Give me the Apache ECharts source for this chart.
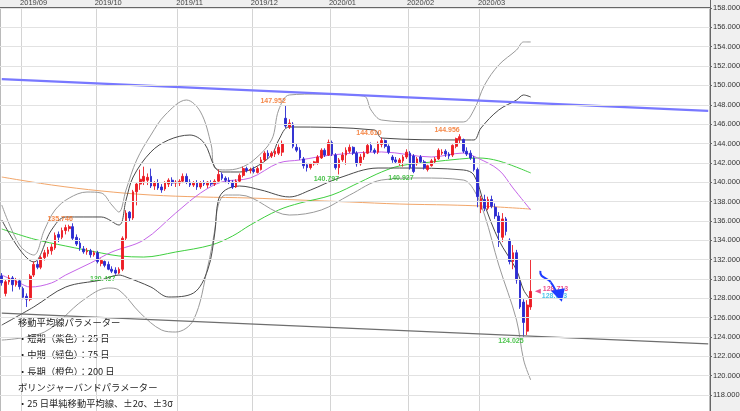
<!DOCTYPE html>
<html><head><meta charset="utf-8">
<script src="https://cdn.jsdelivr.net/npm/echarts@6/dist/echarts.min.js"></script>
<style>html,body{margin:0;padding:0;background:#f0f0f0;overflow:hidden}#c{width:740px;height:411px}</style>
</head><body><div id="c"></div>
<script>
// ---- categories (trading days) ----
const dates = [
'2019/08/23','2019/08/26','2019/08/27','2019/08/28','2019/08/29','2019/08/30',
'2019/09/02','2019/09/03','2019/09/04','2019/09/05','2019/09/06','2019/09/09','2019/09/10','2019/09/11','2019/09/12','2019/09/13','2019/09/16','2019/09/17','2019/09/18','2019/09/19','2019/09/20','2019/09/23','2019/09/24','2019/09/25','2019/09/26','2019/09/27','2019/09/30',
'2019/10/01','2019/10/02','2019/10/03','2019/10/04','2019/10/07','2019/10/08','2019/10/09','2019/10/10','2019/10/11','2019/10/14','2019/10/15','2019/10/16','2019/10/17','2019/10/18','2019/10/21','2019/10/22','2019/10/23','2019/10/24','2019/10/25','2019/10/28','2019/10/29','2019/10/30','2019/10/31',
'2019/11/01','2019/11/04','2019/11/05','2019/11/06','2019/11/07','2019/11/08','2019/11/11','2019/11/12','2019/11/13','2019/11/14','2019/11/15','2019/11/18','2019/11/19','2019/11/20','2019/11/21','2019/11/22','2019/11/25','2019/11/26','2019/11/27','2019/11/28','2019/11/29',
'2019/12/02','2019/12/03','2019/12/04','2019/12/05','2019/12/06','2019/12/09','2019/12/10','2019/12/11','2019/12/12','2019/12/13','2019/12/16','2019/12/17','2019/12/18','2019/12/19','2019/12/20','2019/12/23','2019/12/24','2019/12/25','2019/12/26','2019/12/27','2019/12/30','2019/12/31',
'2020/01/02','2020/01/03','2020/01/06','2020/01/07','2020/01/08','2020/01/09','2020/01/10','2020/01/13','2020/01/14','2020/01/15','2020/01/16','2020/01/17','2020/01/20','2020/01/21','2020/01/22','2020/01/23','2020/01/24','2020/01/27','2020/01/28','2020/01/29','2020/01/30','2020/01/31',
'2020/02/03','2020/02/04','2020/02/05','2020/02/06','2020/02/07','2020/02/10','2020/02/11','2020/02/12','2020/02/13','2020/02/14','2020/02/17','2020/02/18','2020/02/19','2020/02/20','2020/02/21','2020/02/24','2020/02/25','2020/02/26','2020/02/27','2020/02/28',
'2020/03/02','2020/03/03','2020/03/04','2020/03/05','2020/03/06','2020/03/09','2020/03/10','2020/03/11','2020/03/12','2020/03/13','2020/03/16','2020/03/17','2020/03/18','2020/03/19','2020/03/20'
];
const futureSlots = 50;
const monthStarts = [6,27,50,71,93,115,135];
const monthLabels = ['2019/09','2019/10','2019/11','2019/12','2020/01','2020/02','2020/03'];

// ---- OHLC ----
const open = [
130.3,128.5,129.7,130.1,129.4,129.8,
129.0,128.2,127.9,130.4,131.5,131.2,132.2,132.6,132.9,133.2,134.6,134.3,135.0,135.2,135.4,134.3,133.7,133.1,132.8,132.9,132.5,
132.7,131.6,131.8,131.5,131.0,130.9,130.6,131.0,134.2,136.9,136.3,139.0,139.8,140.1,140.2,140.6,139.6,139.9,139.5,139.3,139.8,140.2,139.9,
139.9,140.1,140.6,140.0,139.7,139.9,139.5,139.9,139.7,139.9,139.8,140.1,140.8,140.4,140.2,140.0,139.5,140.1,140.7,141.4,141.2,
141.3,141.0,141.3,142.3,143.0,142.7,142.9,143.0,143.1,146.6,145.7,146.0,143.6,143.3,142.4,141.8,141.5,141.9,142.0,142.5,143.3,142.8,
144.1,142.8,141.5,142.3,142.8,143.2,143.6,143.0,141.9,142.6,143.0,143.8,143.3,143.1,143.9,144.3,143.7,142.6,142.3,142.0,142.2,142.6,
143.0,142.7,141.9,142.6,142.1,141.3,141.7,142.1,142.4,143.0,143.2,142.9,142.8,143.7,144.4,144.4,143.2,143.0,142.5,141.3,
137.2,138.2,137.3,138.2,137.4,136.5,134.3,136.2,134.0,131.8,132.7,129.7,127.6,124.6,127.1
];
const high = [
130.6,129.9,130.4,130.3,130.1,130.0,
129.2,128.5,130.5,131.8,131.9,132.4,133.0,133.3,133.6,134.8,134.9,135.3,135.6,135.6,135.746,134.6,134.2,133.4,133.2,133.1,132.9,
132.9,132.1,131.9,131.8,131.3,131.2,131.2,134.4,137.1,137.0,139.2,140.0,141.3,141.6,140.9,141.4,140.1,140.3,139.8,140.1,140.4,140.5,140.2,
140.3,140.9,140.9,140.3,140.1,140.2,140.1,140.2,140.1,140.2,140.3,141.3,141.0,140.6,140.5,140.2,140.3,140.9,141.6,141.6,141.5,
141.6,141.6,142.6,143.2,143.3,143.2,143.4,143.9,144.3,147.952,146.5,146.2,144.0,143.6,142.6,142.0,142.0,142.2,142.8,143.5,143.5,144.4,
144.3,143.0,142.5,143.1,143.6,143.9,143.7,143.2,142.9,143.2,144.0,144.1,143.5,144.2,144.61,144.4,143.9,142.8,142.6,142.5,142.8,143.4,
143.2,142.9,142.6,142.8,142.3,141.8,142.4,142.6,143.5,143.4,143.4,143.1,143.9,144.6,144.956,144.5,143.6,143.3,142.7,141.5,
138.6,138.7,138.5,138.6,137.8,136.9,136.8,136.4,134.2,133.5,133.0,130.0,127.9,127.8,132.0
];
const low = [
129.3,128.2,129.4,128.7,129.2,128.9,
127.9,127.1,127.7,130.2,131.0,131.0,131.9,132.3,132.5,133.0,133.8,134.1,134.6,134.9,134.0,133.4,132.9,132.6,132.5,132.2,132.3,
131.6,131.3,131.2,130.9,130.6,130.437,130.5,130.8,134.0,135.9,136.1,137.6,139.2,139.7,139.7,139.4,139.2,139.2,138.9,139.1,139.5,139.6,139.5,
139.6,139.9,139.8,139.5,139.5,139.2,139.3,139.6,139.4,139.6,139.6,140.0,140.2,139.9,139.8,139.3,139.4,140.0,140.5,141.0,140.9,
140.9,140.9,141.2,142.1,142.4,142.5,142.6,142.8,142.7,145.6,145.5,143.5,143.1,142.3,141.4,141.1,141.3,141.7,141.8,142.4,142.6,142.7,
142.7,141.3,140.797,142.1,141.8,143.0,142.8,141.6,141.7,142.3,142.9,143.1,142.9,142.9,143.6,143.5,142.9,142.0,141.9,141.7,141.6,142.4,
141.3,140.927,141.7,142.0,141.3,141.1,141.6,141.9,142.3,142.8,142.6,142.4,142.6,143.5,144.0,143.0,142.7,142.3,141.1,137.4,
136.8,137.0,137.1,137.3,136.2,133.3,133.8,134.5,131.5,131.0,129.5,126.9,124.025,124.2,126.8
];
const close = [
129.6,129.7,130.1,129.4,129.8,129.2,
128.1,127.9,130.3,131.5,131.2,132.2,132.7,133.0,133.3,134.5,134.3,135.0,135.3,135.4,134.2,133.6,133.2,132.8,132.9,132.5,132.7,
131.8,131.9,131.4,131.0,130.8,130.6,131.0,134.2,136.8,136.3,139.0,139.8,140.3,140.6,140.5,139.6,139.9,139.4,139.2,139.9,140.2,139.9,140.0,
140.1,140.6,140.0,139.7,139.9,139.5,139.9,139.8,140.0,139.8,140.1,140.8,140.4,140.2,140.0,139.5,140.1,140.7,141.4,141.2,141.3,
141.1,141.4,142.3,143.0,142.7,143.0,143.2,143.6,144.0,145.8,146.1,143.7,143.3,142.5,141.7,141.5,141.9,142.1,142.6,143.3,142.8,144.1,
142.9,141.5,142.3,142.8,143.3,143.6,143.0,141.9,142.6,143.0,143.8,143.3,143.1,144.0,144.3,143.7,143.1,142.3,142.1,142.3,142.6,143.1,
141.5,141.1,142.4,142.1,141.5,141.7,142.2,142.4,143.3,143.1,142.9,142.7,143.8,144.5,144.7,143.2,142.9,142.5,141.3,138.5,
138.3,137.3,138.2,137.5,136.5,134.8,136.2,134.9,131.8,132.7,129.9,127.1,125.5,127.3,128.713
];

// ---- indicator lines as [day index, value] ----
const ma25 = [[0,130.40],[5,129.58],[8,129.16],[14,129.58],[18,130.40],[25,131.64],[31,132.78],[40,134.02],[49,136.81],[56,138.88],[62,140.02],[70,140.43],[78,141.98],[84,142.29],[93,142.81],[107,143.12],[121,142.60],[130,143.01],[134,142.50],[140,141.26],[144,139.40],[149,137.12]];
const ma75 = [[0,135.16],[9,134.12],[18,133.40],[28,132.68],[33,132.37],[40,132.26],[49,132.78],[59,133.50],[65,134.43],[70,135.57],[78,137.12],[84,137.84],[93,138.67],[101,140.02],[107,141.05],[112,141.67],[121,142.08],[129,142.39],[134,142.50],[140,142.19],[149,140.95]];
const ma200 = [[0,140.53],[14,139.71],[28,139.09],[42,138.67],[56,138.47],[70,138.36],[84,138.15],[98,137.95],[112,137.74],[126,137.64],[135,137.53],[149,137.22]];
const bbUp3 = [[0,137.64],[5,133.50],[9,132.47],[12,135.05],[15,137.12],[19,138.36],[24,138.98],[28,138.88],[31,137.64],[33,136.91],[35,139.19],[38,142.29],[42,144.87],[46,146.94],[52,148.49],[56,147.25],[59,143.84],[60,141.46],[63,141.26],[67,141.46],[71,142.29],[76,144.36],[78,147.46],[81,149.01],[90,149.11],[102,148.90],[104,147.46],[107,146.42],[118,146.22],[130,146.22],[133,147.46],[136,150.04],[140,152.11],[145,153.66],[147,154.49],[149,154.49]];
const bbUp2 = [[0,136.09],[9,131.75],[14,135.05],[18,136.40],[28,136.40],[33,135.57],[35,138.15],[37,140.53],[42,143.12],[47,144.36],[53,144.87],[57,144.05],[60,141.57],[62,141.05],[67,141.05],[71,141.46],[76,142.81],[78,144.36],[81,145.70],[105,145.39],[107,144.56],[130,144.36],[133,144.36],[135,145.60],[140,147.46],[145,148.49],[147,149.01],[149,148.80]];
const bbLo2 = [[0,125.23],[9,127.10],[18,129.16],[28,129.89],[33,130.40],[35,130.20],[42,129.16],[47,128.13],[54,128.54],[58,130.92],[60,134.74],[61,138.15],[63,139.19],[67,139.60],[73,139.19],[81,138.47],[87,139.19],[95,140.43],[106,141.46],[112,141.46],[130,141.26],[133,140.74],[136,137.64],[140,134.02],[145,130.92],[147,128.85],[149,127.82]];
const bbLo3 = [[0,123.68],[12,124.51],[23,127.82],[30,129.06],[33,128.85],[39,126.47],[45,124.72],[49,124.51],[54,125.75],[58,131.23],[60,135.05],[61,137.64],[63,138.67],[67,138.67],[81,136.60],[90,137.12],[98,138.67],[107,140.22],[118,140.43],[130,140.22],[133,139.19],[136,136.60],[140,131.43],[145,125.75],[147,121.62],[149,119.55]];

// ---- trend lines (end points) ----
const upperTrend = [[0,150.65],[199,147.36]];
const lowerTrend = [[0,126.47],[199,123.28]];

// ---- annotations ----
const highMarks = [[20,135.746],[80,147.952],[107,144.610],[129,144.956]];
const lowMarks = [[32,130.437],[95,140.797],[116,140.927],[147,124.025]];
const lastPrice = [[151,128.713]];
const askLabel = '128.693';

const notes = [
 '移動平均線パラメーター',
 '・短期（紫色）：25 日',
 '・中期（緑色）：75 日',
 '・長期（橙色）：200 日',
 'ボリンジャーバンドパラメーター',
 '・25 日単純移動平均線、±2σ、±3σ'
];

const cats = dates.concat(Array.from({length: futureSlots}, (_, i) => 'F' + i));
const candles = dates.map((d, i) => [open[i], close[i], low[i], high[i]]);
const NUM = 'Liberation Sans';

function lineSeries(data, color, width) {
  return {type:'line', data, xAxisIndex:0, yAxisIndex:0, symbol:'none', smooth:0.35,
    lineStyle:{color, width}, silent:true, z:3};
}

const chart = echarts.init(document.getElementById('c'));
chart.setOption({
  animation:false,
  backgroundColor:'#f0f0f0',
  grid:[
    {left:0, right:30, top:-11.35, bottom:-3.35, show:true, backgroundColor:'#ffffff', borderColor:'#777', borderWidth:1,
     containLabel:false, outerBoundsMode:'none'},
    {left:0, right:30, top:0, height:7, show:false, containLabel:false, outerBoundsMode:'none'}
  ],
  xAxis:[
    {type:'category', gridIndex:0, data:cats, boundaryGap:true,
     axisLine:{show:false}, axisTick:{show:false}, axisLabel:{show:false},
     splitLine:{show:true, interval:(i)=>monthStarts.includes(i), lineStyle:{color:'#d4d4d4', width:1}}},
    {type:'category', gridIndex:1, data:cats, boundaryGap:true, position:'bottom', z:60,
     axisLine:{show:true, lineStyle:{color:'#666', width:1}}, axisTick:{show:false},
     axisLabel:{show:true, inside:true, margin:0.5, interval:(i)=>monthStarts.includes(i),
       formatter:(v, i)=>monthLabels[monthStarts.indexOf(i)] || v.slice(0,7),
       align:'left', padding:[0,0,0,-3], fontSize:7.5, color:'#444', fontFamily:NUM}, splitLine:{show:false}}
  ],
  yAxis:[
    {type:'value', gridIndex:0, position:'right', min:116, max:160, interval:2, z:60,
     axisLine:{show:true, lineStyle:{color:'#666'}}, axisTick:{show:true, length:2, lineStyle:{color:'#666'}},
     axisLabel:{formatter:(v)=>v.toFixed(3), fontSize:7.5, color:'#333', margin:3, fontFamily:NUM},
     splitLine:{show:true, lineStyle:{color:'#e2e2e2', width:1}}},
    {type:'value', gridIndex:1, show:false}
  ],
  series:[
    lineSeries(ma200, '#f2a66a', 1),
    lineSeries(ma75, '#3fcf3f', 1),
    lineSeries(bbUp3, '#9a9a9a', 1),
    lineSeries(bbLo3, '#9a9a9a', 1),
    lineSeries(bbUp2, '#4a4a4a', 1),
    lineSeries(bbLo2, '#4a4a4a', 1),
    lineSeries(ma25, '#c565e8', 1),
    {type:'candlestick', data:candles, xAxisIndex:0, yAxisIndex:0, barWidth:2.2, z:4,
     itemStyle:{color:'#ec1c24', color0:'#2a2ad0', borderColor:'#ec1c24', borderColor0:'#2a2ad0', borderWidth:0.9}},
    {type:'line', data:upperTrend, symbol:'none', lineStyle:{color:'#7878ff', width:2.2}, z:5, silent:true},
    {type:'line', data:lowerTrend, symbol:'none', lineStyle:{color:'#6e6e6e', width:1.2}, z:5, silent:true},
    {type:'scatter', data:highMarks, symbolSize:0, z:6, silent:true,
     label:{show:true, position:'top', distance:1, align:'right', formatter:(p)=>p.value[1].toFixed(3),
       fontSize:7, fontWeight:'bold', color:'#f26b1d', fontFamily:NUM}},
    {type:'scatter', data:lowMarks, symbolSize:0, z:6, silent:true,
     label:{show:true, position:'bottom', distance:1, align:'right', formatter:(p)=>p.value[1].toFixed(3),
       fontSize:7, fontWeight:'bold', color:'#22b522', fontFamily:NUM}},
    {type:'scatter', data:lastPrice, symbol:'triangle', symbolRotate:90, symbolSize:[5,6], z:6, silent:true,
     itemStyle:{color:'#e8206e'},
     label:{show:true, position:'right', distance:2, offset:[0,-2], formatter:(p)=>p.value[1].toFixed(3),
       fontSize:7, fontWeight:'bold', color:'#e8206e', fontFamily:NUM}},
    {type:'scatter', data:lastPrice, symbolSize:0, z:6, silent:true,
     label:{show:true, position:'right', distance:2, offset:[2,4.5], formatter:()=>askLabel,
       fontSize:7, fontWeight:'bold', color:'#22b4e6', fontFamily:NUM}}
  ]
});

// decorations: header band, notes, hand-drawn arrow anchored to the last price marker
const anchor = chart.convertToPixel({xAxisIndex:0, yAxisIndex:0}, lastPrice[0]);
const ax = anchor[0], ay = anchor[1];
const gfx = [
  {type:'rect', z:50, shape:{x:0, y:0, width:740, height:7}, style:{fill:'#efefef'}},
];
notes.forEach((t, i) => gfx.push({type:'text', z:55, style:{text:t, x:18, y:322.5 + i*16.2,
  verticalAlign:'middle', fill:'#1e1e1e', font:'9.3px "Noto Sans CJK JP"'}}));
gfx.push({type:'bezierCurve', z:57, shape:{x1:ax+2.5, y1:ay-20.5, cpx1:ax+1.5, cpy1:ay-13, cpx2:ax+10, cpy2:ay-14, x2:ax+13, y2:ay-9}, style:{stroke:'#1e3cff', lineWidth:2, fill:null}});
gfx.push({type:'bezierCurve', z:57, shape:{x1:ax+13, y1:ay-9, cpx1:ax+16, cpy1:ay-5, cpx2:ax+17, cpy2:ay-2, x2:ax+19, y2:ay+1}, style:{stroke:'#1e3cff', lineWidth:2, fill:null}});
gfx.push({type:'polygon', z:57, shape:{points:[[ax+13, ay-0.5],[ax+27, ay-3],[ax+24, ay+10.5]]}, style:{fill:'#1e3cff'}});
chart.setOption({graphic:{elements:gfx}});
</script>
</body></html>
